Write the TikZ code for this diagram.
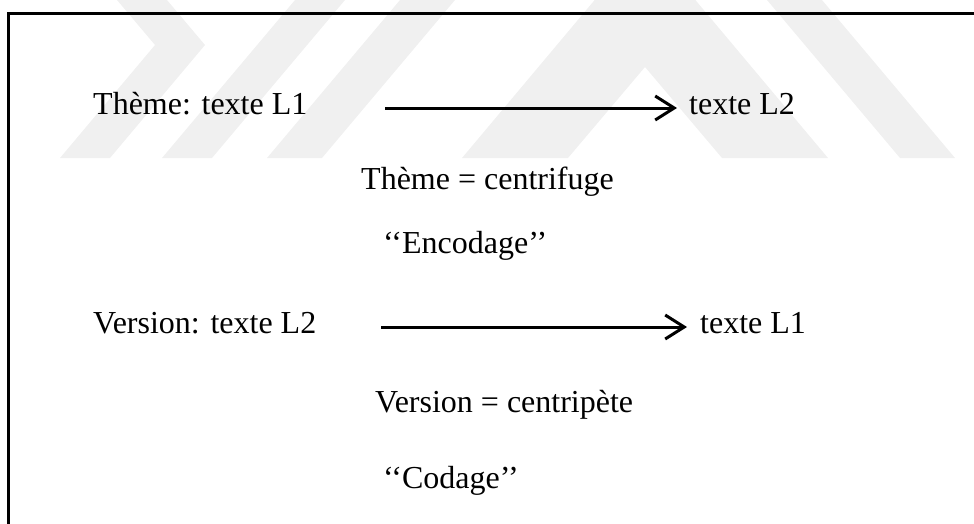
\documentclass[tikz,border=0pt]{standalone}
\usepackage{fontspec}
\setmainfont{Liberation Serif}
\usetikzlibrary{arrows.meta}
\begin{document}
\begin{tikzpicture}[x=1pt,y=-1pt,
  txt/.style={anchor=base west, inner sep=0pt, font=\fontsize{32}{36}\selectfont},
  flow/.style={line width=3pt, -{Straight Barb[length=19pt,width=24pt,line width=3pt]}},
  frame/.style={line width=3pt},
  wm/.style={fill=black!6, draw=none}]
\useasboundingbox (0,0) rectangle (974,523);
\clip (0,0) rectangle (974,523);

% faint background watermark bands
\fill[wm] (117,0) -- (167,0) -- (205,45) -- (110,158) -- (60,158) -- (155,45) -- cycle;
\fill[wm] (295,0) -- (345,0) -- (212,158) -- (162,158) -- cycle;
\fill[wm] (400,0) -- (455,0) -- (322,158) -- (267,158) -- cycle;
\fill[wm] (645,-60) -- (828,158) -- (722,158) -- (645,67) -- (568,158) -- (462,158) -- cycle;
\fill[wm] (767,0) -- (822,0) -- (955,158) -- (900,158) -- cycle;

% open frame
\draw[frame] (8,540) -- (8,13) -- (990,13);

% first translation direction
\node[txt] (theme)  at (93,114)  {Thème: texte L1};
\node[txt] (themeL2) at (689,114) {texte L2};
\node[txt] (centrifuge) at (361,189) {Thème = centrifuge};
\node[txt] (encodage) at (383,253) {‘‘Encodage’’};

% second translation direction
\node[txt] (version) at (93,333)  {Version: texte L2};
\node[txt] (versionL1) at (700,333) {texte L1};
\node[txt] (centripete) at (375,412) {Version = centripète};
\node[txt] (codage) at (383,488) {‘‘Codage’’};

\coordinate (a1s) at (385,108);
\coordinate (a1e) at (677,108);
\coordinate (a2s) at (381,327);
\coordinate (a2e) at (687,327);
\draw[flow] (a1s) -- (a1e);
\draw[flow] (a2s) -- (a2e);
\end{tikzpicture}
\end{document}
